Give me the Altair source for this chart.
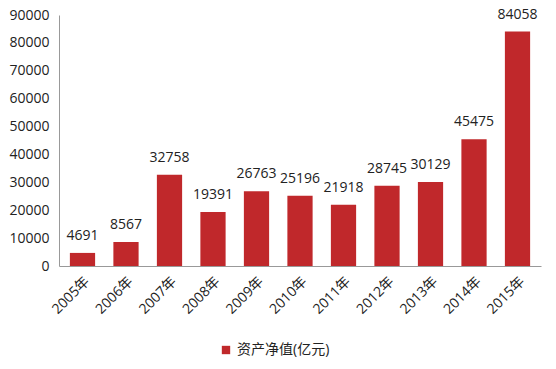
import altair as alt
import pandas as pd

years = ["2005年", "2006年", "2007年", "2008年", "2009年", "2010年", "2011年", "2012年", "2013年", "2014年", "2015年"]
values = [4691, 8567, 32758, 19391, 26763, 25196, 21918, 28745, 30129, 45475, 84058]
series = "资产净值(亿元)"

df = pd.DataFrame({"year": years, "value": values, "series": [series] * len(years)})

FONT = "Open Sans, Noto Sans CJK SC"

base = alt.Chart(df).encode(
    x=alt.X("year:N", sort=years, title=None,
            scale=alt.Scale(paddingInner=0.42, paddingOuter=0.25),
            axis=alt.Axis(labelAngle=-45, labelFontSize=14, labelColor="#222222", labelFont=FONT,
                          ticks=False, domainColor="#999999", labelPadding=8)),
    y=alt.Y("value:Q", title=None,
            scale=alt.Scale(domain=[0, 90000]),
            axis=alt.Axis(values=list(range(0, 90001, 10000)), format="d", grid=False, ticks=False,
                          domainColor="#999999", labelFontSize=14, labelColor="#222222",
                          labelFont=FONT, labelPadding=10)),
)

bars = base.mark_bar().encode(
    color=alt.Color("series:N", scale=alt.Scale(range=["#c0282b"]),
                    legend=alt.Legend(title=None, orient="none", legendX=160, legendY=328,
                                      symbolType="square", symbolSize=70, labelFontSize=14,
                                      labelFont=FONT, labelColor="#222222"))
)

text = base.mark_text(baseline="bottom", dy=-10, fontSize=14, font=FONT, color="#222222").encode(
    text="value:Q"
)

chart = (bars + text).properties(
    width=482, height=251,
    padding={"left": 8, "top": 7, "right": 14, "bottom": 5},
).configure_view(stroke=None)

chart.save("out.html", embed_options={"renderer": "svg", "actions": False})
